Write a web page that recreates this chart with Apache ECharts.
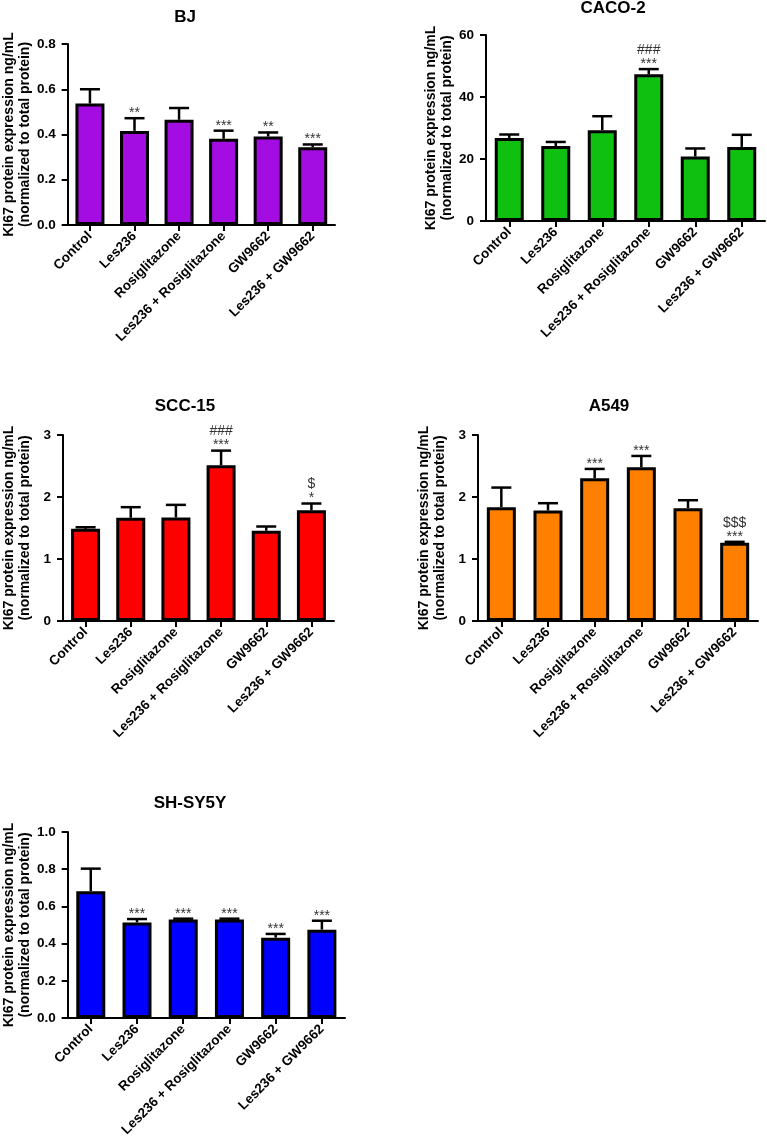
<!DOCTYPE html>
<html>
<head>
<meta charset="utf-8">
<script src="https://cdn.jsdelivr.net/npm/echarts@6/dist/echarts.min.js"></script>
<style>
  html, body { margin: 0; padding: 0; background: #fff; }
  #chart { width: 767px; height: 1147px; }
</style>
</head>
<body>
<div id="chart"></div>
<script>
const categories = ['Control', 'Les236', 'Rosiglitazone', 'Les236 + Rosiglitazone', 'GW9662', 'Les236 + GW9662'];
const yAxisName = 'KI67 protein expression ng/mL\n(normalized to total protein)';

const bjMean = [0.537, 0.416, 0.465, 0.381, 0.391, 0.344];
const bjSem  = [0.063, 0.056, 0.052, 0.036, 0.018, 0.012];
const bjSig  = ['', '**', '', '***', '**', '***'];

const cacoMean = [26.8, 24.2, 29.3, 47.3, 20.8, 23.9];
const cacoSem  = [1.1, 1.3, 4.5, 1.7, 2.6, 3.9];
const cacoSig  = ['', '', '', '###\n***', '', ''];

const sccMean = [1.487, 1.664, 1.67, 2.512, 1.455, 1.787];
const sccSem  = [0.025, 0.172, 0.203, 0.236, 0.069, 0.108];
const sccSig  = ['', '', '', '###\n***', '', '$\n*'];

const a549Mean = [1.836, 1.782, 2.303, 2.48, 1.82, 1.261];
const a549Sem  = [0.316, 0.118, 0.15, 0.182, 0.128, 0.016];
const a549Sig  = ['', '', '***', '***', '', '$$$\n***'];

const shMean = [0.681, 0.514, 0.529, 0.529, 0.432, 0.475];
const shSem  = [0.122, 0.018, 0.005, 0.005, 0.02, 0.048];
const shSig  = ['', '***', '***', '***', '***', '***'];

const FONT = 'Liberation Sans, Arial, sans-serif';

const panels = [
  { title: 'BJ', mean: bjMean, sem: bjSem, sig: bjSig, color: '#A30DE2', max: 0.8, interval: 0.2, dec: 1,
    grid: { left: 63, top: 44, width: 272, height: 181 }, tx: 185, ty: 9 },
  { title: 'CACO-2', mean: cacoMean, sem: cacoSem, sig: cacoSig, color: '#10C010', max: 60, interval: 20, dec: 0,
    grid: { left: 486, top: 35, width: 279, height: 186 }, tx: 613, ty: 0 },
  { title: 'SCC-15', mean: sccMean, sem: sccSem, sig: sccSig, color: '#FF0000', max: 3, interval: 1, dec: 0,
    grid: { left: 54, top: 435, width: 280, height: 186 }, tx: 185, ty: 398 },
  { title: 'A549', mean: a549Mean, sem: a549Sem, sig: a549Sig, color: '#FF8000', max: 3, interval: 1, dec: 0,
    grid: { left: 478, top: 435, width: 280, height: 186 }, tx: 609, ty: 398 },
  { title: 'SH-SY5Y', mean: shMean, sem: shSem, sig: shSig, color: '#0000FF', max: 1.0, interval: 0.2, dec: 1,
    grid: { left: 66, top: 832, width: 279, height: 186 }, tx: 190, ty: 795 }
];

const option = {
  backgroundColor: '#fff',
  animation: false,
  title: [], grid: [], xAxis: [], yAxis: [], series: []
};

panels.forEach((p, gi) => {
  option.title.push({
    text: p.title, left: p.tx, top: p.ty, textAlign: 'center', padding: 0,
    textStyle: { fontFamily: FONT, fontWeight: 'bold', fontSize: 17, color: '#000' }
  });
  option.grid.push(Object.assign({ containLabel: false }, p.grid));
  option.xAxis.push({
    type: 'category', gridIndex: gi, data: categories,
    axisLine: { show: true, lineStyle: { color: '#000', width: 2 } },
    axisTick: { show: true, alignWithLabel: true, length: 6, lineStyle: { color: '#000', width: 2 } },
    axisLabel: { interval: 0, rotate: 45, margin: 9, color: '#000', fontFamily: FONT, fontWeight: 'bold', fontSize: 13.5 },
    splitLine: { show: false }
  });
  option.yAxis.push({
    type: 'value', gridIndex: gi, min: 0, max: p.max, interval: p.interval,
    name: yAxisName, nameLocation: 'middle', nameGap: 30,
    nameTextStyle: { fontFamily: FONT, fontWeight: 'bold', fontSize: 14, lineHeight: 16, color: '#000' },
    axisLine: { show: true, lineStyle: { color: '#000', width: 2 } },
    axisTick: { show: true, length: 6, lineStyle: { color: '#000', width: 2 } },
    axisLabel: { margin: 12, color: '#000', fontFamily: FONT, fontWeight: 'bold', fontSize: 13.5,
      formatter: v => v.toFixed(p.dec) },
    splitLine: { show: false }
  });
  option.series.push({
    type: 'bar', xAxisIndex: gi, yAxisIndex: gi, data: p.mean, barWidth: 29,
    itemStyle: { color: p.color, borderColor: '#000', borderWidth: 3 }, z: 2
  });
  option.series.push({
    type: 'custom', xAxisIndex: gi, yAxisIndex: gi, z: 5,
    data: p.mean.map((m, i) => [i, m + p.sem[i]]),
    renderItem: (params, api) => {
      const i = params.dataIndex;
      const base = api.coord([i, p.mean[i]]);
      const top = api.coord([i, p.mean[i] + p.sem[i]]);
      const children = [
        { type: 'line', shape: { x1: top[0], y1: base[1], x2: top[0], y2: top[1] },
          style: { stroke: '#000', lineWidth: 2.5 } },
        { type: 'line', shape: { x1: top[0] - 10, y1: top[1], x2: top[0] + 10, y2: top[1] },
          style: { stroke: '#000', lineWidth: 2.5 } }
      ];
      const lines = p.sig[i] ? p.sig[i].split('\n').reverse() : [];
      lines.forEach((t, k) => {
        const shift = t.indexOf('*') >= 0 ? 3 : 0;
        children.push({
          type: 'text',
          style: { text: t, x: top[0], y: top[1] - 8 - k * 11 + shift, align: 'center', verticalAlign: 'middle',
            fill: '#333', font: '14px ' + FONT }
        });
      });
      return { type: 'group', children };
    }
  });
});

const chart = echarts.init(document.getElementById('chart'), null, { renderer: 'canvas' });
chart.setOption(option);
</script>
</body>
</html>
